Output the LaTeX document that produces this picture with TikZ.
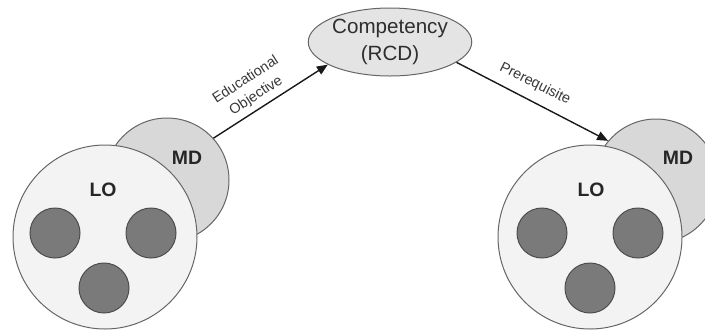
\documentclass[tikz,border=0pt]{standalone}
\usepackage{fontspec}
\setmainfont{Liberation Sans}
\usetikzlibrary{shapes.geometric,arrows.meta}
\definecolor{lofill}{HTML}{F3F3F3}
\definecolor{mdfill}{HTML}{D8D8D8}
\definecolor{dotfill}{HTML}{7A7A7A}
\definecolor{rim}{HTML}{666666}
\definecolor{compfill}{HTML}{E4E4E4}
\tikzset{
  lobox/.style={circle, draw=rim, line width=0.5pt, fill=lofill, minimum size=92pt, inner sep=0pt},
  mdbox/.style={circle, draw=rim, line width=0.5pt, fill=mdfill, minimum size=62pt, inner sep=0pt},
  dot/.style={circle, draw=black!70, line width=0.5pt, fill=dotfill, minimum size=25pt, inner sep=0pt},
  tag/.style={font=\fontsize{9.7}{11}\selectfont\bfseries, text=black!85},
  compbox/.style={ellipse, draw=rim, line width=0.5pt, fill=compfill, minimum width=77pt, minimum height=34pt, inner sep=0pt, align=center, font=\fontsize{10.3}{13.5}\selectfont, text=black!82},
  rel/.style={-{Triangle[length=5.5pt,width=4.5pt]}, line width=0.7pt, black!90},
  rellabel/.style={font=\fontsize{7.2}{9.5}\selectfont, text=black!78, align=center, inner sep=0pt}
}
\begin{document}
\begin{tikzpicture}[x=0.5pt, y=-0.5pt]
  \useasboundingbox (0,0) rectangle (705,333);
  % left module: learning object with its metadata
  \node[mdbox] (mdL) at (167,180) {};
  \node[lobox] (loL) at (105,237) {};
  \node[tag] (mdLt) at (187,158) {MD};
  \node[tag] (loLt) at (103,190) {LO};
  \node[dot] (aL) at (55,233) {};
  \node[dot] (bL) at (151,233) {};
  \node[dot] (cL) at (104,288) {};
  % right module
  \node[mdbox] (mdR) at (656,181) {};
  \node[lobox] (loR) at (590,237) {};
  \node[tag] (mdRt) at (678,158) {MD};
  \node[tag] (loRt) at (591,190) {LO};
  \node[dot] (aR) at (542,233) {};
  \node[dot] (bR) at (638,233) {};
  \node[dot] (cR) at (590,288) {};
  % competency
  \node[compbox] (comp) at (390,42) {Competency\\(RCD)};
  % relations
  \draw[rel] (mdL.42) -- (comp.200);
  \draw[rel] (comp.-17) -- (mdR.140);
  \node[rellabel, rotate=33] (eo) at (251,88) {Educational\\Objective};
  \node[rellabel, rotate=-26.5] (pr) at (535,84) {Prerequisite};
\end{tikzpicture}
\end{document}
